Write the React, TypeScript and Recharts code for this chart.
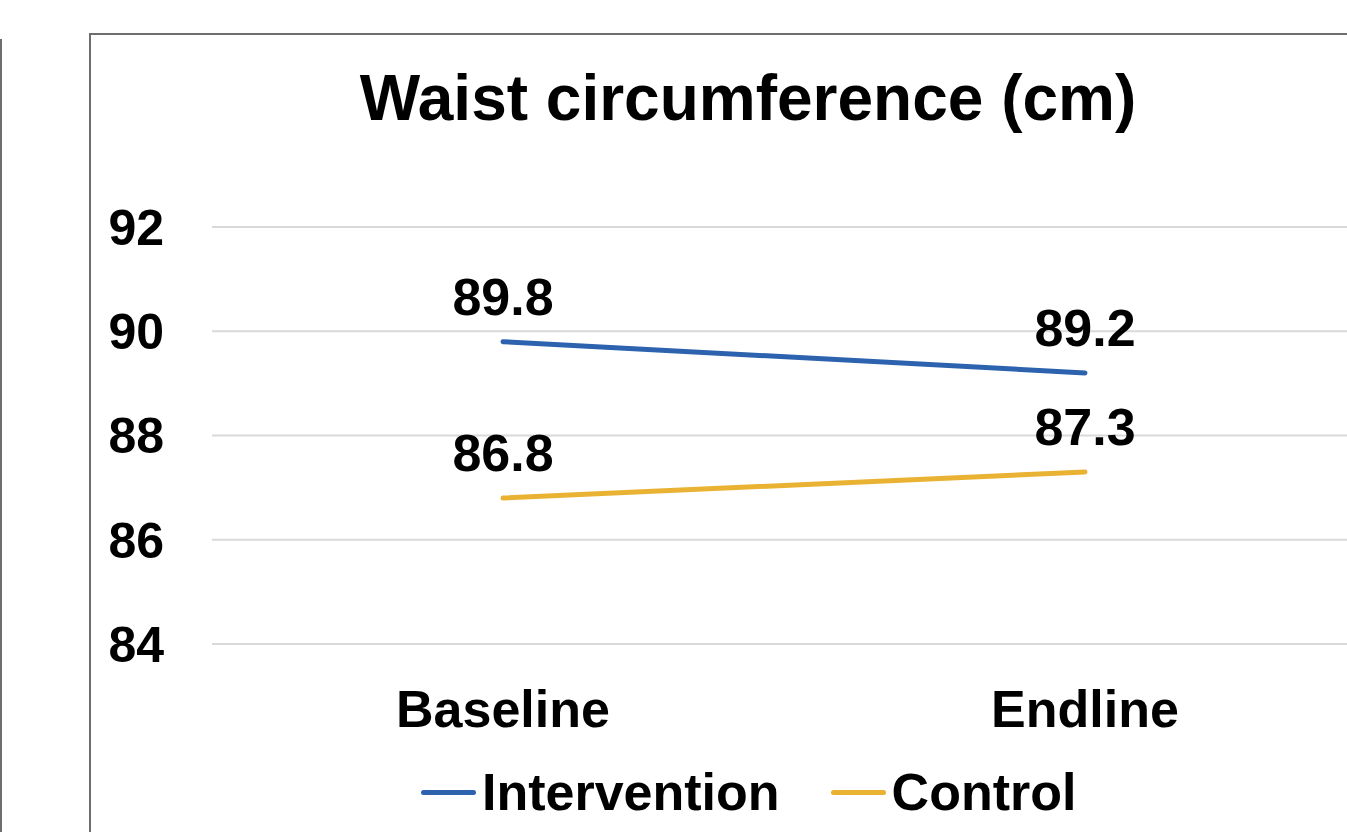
import { CartesianGrid, LabelList, Line, LineChart, XAxis, YAxis } from 'recharts';

const categories = ['Baseline', 'Endline'];
const intervention = [89.8, 89.2];
const control = [86.8, 87.3];
const yTicks = [84, 86, 88, 90, 92];

const series = [
  { key: 'intervention', name: 'Intervention', color: '#2C62AE' },
  { key: 'control', name: 'Control', color: '#EAB232' },
];

const chartData = categories.map((name, i) => ({
  name,
  intervention: intervention[i],
  control: control[i],
}));

const font = '"Liberation Sans", Arial, sans-serif';

export default function App() {
  return (
    <div
      style={{
        position: 'fixed',
        left: 0,
        top: 0,
        width: 1347,
        height: 832,
        overflow: 'hidden',
        background: '#fff',
        fontFamily: font,
      }}
    >
      <div style={{ position: 'absolute', left: 0, top: 39, width: 2, height: 900, background: '#6e6e6e' }} />
      <div
        style={{
          position: 'absolute',
          left: 89,
          top: 33,
          width: 1500,
          height: 900,
          border: '2px solid #6e6e6e',
        }}
      />
      <div
        style={{
          position: 'absolute',
          left: 0,
          top: 66,
          width: 1496,
          textAlign: 'center',
          fontSize: 64,
          fontWeight: 'bold',
          lineHeight: 1,
          color: '#000',
        }}
      >
        Waist circumference (cm)
      </div>

      <div style={{ position: 'absolute', left: 0, top: 0 }}>
        <LineChart width={1500} height={832} data={chartData} margin={{ top: 227, right: 124, bottom: 88, left: 12 }}>
          <CartesianGrid vertical={false} stroke="#d9d9d9" strokeWidth={2} />
          <XAxis
            dataKey="name"
            axisLine={false}
            tickLine={false}
            tickSize={0}
            tickMargin={46}
            height={100}
            padding={{ left: 291, right: 291 }}
            tick={{ fill: '#000', fontSize: 52, fontWeight: 'bold', fontFamily: font }}
          />
          <YAxis
            domain={[84, 92]}
            ticks={yTicks}
            axisLine={false}
            tickLine={false}
            tickSize={0}
            tickMargin={48}
            width={200}
            tick={{ fill: '#000', fontSize: 50, fontWeight: 'bold', fontFamily: font }}
          />
          {series.map((s) => (
            <Line
              key={s.key}
              type="linear"
              dataKey={s.key}
              name={s.name}
              stroke={s.color}
              strokeWidth={5}
              strokeLinecap="round"
              dot={false}
              activeDot={false}
              isAnimationActive={false}
            >
              <LabelList
                dataKey={s.key}
                position="top"
                offset={27}
                fill="#000"
                fontSize={52}
                fontWeight="bold"
                fontFamily={font}
                formatter={(v: number) => v.toFixed(1)}
              />
            </Line>
          ))}
        </LineChart>
      </div>

      <div
        style={{
          position: 'absolute',
          left: 421,
          top: 766,
          display: 'flex',
          alignItems: 'center',
        }}
      >
        {series.map((s, i) => (
          <div key={s.key} style={{ display: 'flex', alignItems: 'center', marginLeft: i === 0 ? 0 : 51 }}>
            <div style={{ width: 55, height: 5, borderRadius: 3, background: s.color, marginRight: 6 }} />
            <span style={{ fontSize: 52, fontWeight: 'bold', lineHeight: 1, color: '#000' }}>{s.name}</span>
          </div>
        ))}
      </div>
    </div>
  );
}
